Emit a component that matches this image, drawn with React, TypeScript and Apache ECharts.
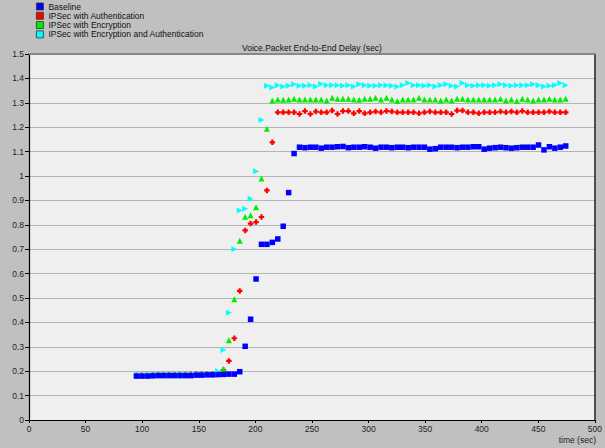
import React, { useEffect, useRef } from "react";
import * as echarts from "echarts";

const seriesNames = [
  "Baseline",
  "IPSec with Authentication",
  "IPSec with Encryption",
  "IPSec with Encryption and Authentication",
];

const times = [
  95, 99.8, 104.6, 109.4, 114.2, 119, 123.8, 128.6, 133.4, 138.2,
  143, 147.8, 152.6, 157.4, 162.2, 167, 171.8, 176.6, 181.4, 186.2,
  191, 195.8, 200.6, 205.4, 210.2, 215, 219.8, 224.6, 229.4, 234.2,
  239, 243.8, 248.6, 253.4, 258.2, 263, 267.8, 272.6, 277.4, 282.2,
  287, 291.8, 296.6, 301.4, 306.2, 311, 315.8, 320.6, 325.4, 330.2,
  335, 339.8, 344.6, 349.4, 354.2, 359, 363.8, 368.6, 373.4, 378.2,
  383, 387.8, 392.6, 397.4, 402.2, 407, 411.8, 416.6, 421.4, 426.2,
  431, 435.8, 440.6, 445.4, 450.2, 455, 459.8, 464.6, 469.4, 474.2,
];

const baseline = [
  0.180, 0.180, 0.180, 0.181, 0.182, 0.182, 0.182, 0.182, 0.182, 0.182,
  0.182, 0.184, 0.184, 0.185, 0.185, 0.186, 0.187, 0.188, 0.188, 0.198,
  0.302, 0.413, 0.578, 0.720, 0.720, 0.728, 0.742, 0.794, 0.932, 1.092,
  1.118, 1.116, 1.118, 1.118, 1.114, 1.118, 1.118, 1.120, 1.121, 1.116,
  1.118, 1.118, 1.120, 1.118, 1.114, 1.118, 1.118, 1.116, 1.118, 1.118,
  1.116, 1.118, 1.118, 1.118, 1.110, 1.112, 1.118, 1.118, 1.118, 1.116,
  1.118, 1.118, 1.120, 1.120, 1.110, 1.114, 1.116, 1.118, 1.116, 1.114,
  1.116, 1.118, 1.118, 1.118, 1.127, 1.107, 1.120, 1.114, 1.118, 1.123,
];

const ipsecAuth = [
  0.183, 0.183, 0.183, 0.184, 0.185, 0.185, 0.185, 0.185, 0.185, 0.186,
  0.186, 0.187, 0.188, 0.188, 0.189, 0.190, 0.205, 0.242, 0.335, 0.529,
  0.777, 0.805, 0.811, 0.832, 0.941, 1.138, 1.261, 1.261, 1.261, 1.261,
  1.254, 1.266, 1.254, 1.264, 1.261, 1.261, 1.268, 1.254, 1.266, 1.266,
  1.257, 1.266, 1.257, 1.261, 1.264, 1.261, 1.266, 1.264, 1.261, 1.261,
  1.261, 1.261, 1.257, 1.261, 1.264, 1.261, 1.261, 1.261, 1.254, 1.268,
  1.268, 1.261, 1.261, 1.257, 1.261, 1.261, 1.261, 1.264, 1.261, 1.264,
  1.261, 1.266, 1.261, 1.261, 1.261, 1.261, 1.264, 1.261, 1.261, 1.261,
];

const ipsecEnc = [
  0.184, 0.184, 0.184, 0.185, 0.186, 0.186, 0.186, 0.186, 0.186, 0.186,
  0.186, 0.188, 0.188, 0.189, 0.189, 0.190, 0.209, 0.327, 0.495, 0.735,
  0.833, 0.839, 0.872, 0.990, 1.194, 1.309, 1.314, 1.312, 1.314, 1.317,
  1.314, 1.314, 1.314, 1.314, 1.314, 1.309, 1.321, 1.317, 1.317, 1.317,
  1.314, 1.312, 1.317, 1.317, 1.321, 1.314, 1.321, 1.314, 1.307, 1.314,
  1.314, 1.314, 1.321, 1.314, 1.314, 1.314, 1.309, 1.314, 1.309, 1.317,
  1.317, 1.314, 1.314, 1.314, 1.314, 1.314, 1.314, 1.317, 1.309, 1.314,
  1.307, 1.317, 1.314, 1.309, 1.314, 1.314, 1.317, 1.314, 1.314, 1.317,
];

const ipsecEncAuth = [
  0.184, 0.184, 0.184, 0.185, 0.186, 0.186, 0.186, 0.186, 0.186, 0.186,
  0.186, 0.188, 0.188, 0.189, 0.189, 0.200, 0.287, 0.440, 0.700, 0.859,
  0.866, 0.907, 1.019, 1.230, 1.370, 1.363, 1.372, 1.367, 1.370, 1.376,
  1.370, 1.370, 1.372, 1.367, 1.377, 1.372, 1.372, 1.372, 1.370, 1.372,
  1.367, 1.376, 1.372, 1.370, 1.370, 1.372, 1.372, 1.370, 1.367, 1.372,
  1.381, 1.372, 1.372, 1.370, 1.372, 1.367, 1.372, 1.376, 1.370, 1.367,
  1.381, 1.372, 1.370, 1.372, 1.372, 1.370, 1.372, 1.376, 1.372, 1.370,
  1.372, 1.372, 1.372, 1.376, 1.372, 1.367, 1.370, 1.372, 1.381, 1.372,
];

const seriesValues = [baseline, ipsecAuth, ipsecEnc, ipsecEncAuth];
const colors = ["#0000ff", "#ff0000", "#00ee00", "#00ffff"];
const symbols = [
  "rect",
  "path://M1.5,0h2v1.5h1.5v2h-1.5v1.5h-2v-1.5h-1.5v-2h1.5z",
  "triangle",
  "triangle",
];
const symbolSizes = [5.5, 5.5, 6, 6];
const symbolRotates = [0, 0, 0, -90];

const FONT = 'Arial, "Liberation Sans", sans-serif';

export default function App() {
  const ref = useRef<HTMLDivElement>(null);

  useEffect(() => {
    if (!ref.current) return;
    const chart = echarts.init(ref.current, null, { renderer: "svg" });

    const series = seriesNames.map((name, i) => ({
      name,
      type: "scatter",
      data: times.map((t, k) => [t, seriesValues[i][k]]),
      symbol: symbols[i],
      symbolSize: symbolSizes[i],
      symbolRotate: symbolRotates[i],
      itemStyle: { color: colors[i], opacity: 1 },
      z: i === 0 ? 5 : 2,
      emphasis: { disabled: true },
    }));

    chart.setOption({
      animation: false,
      backgroundColor: "#c0c0c0",
      textStyle: { fontFamily: FONT },
      title: {
        text: "Voice.Packet End-to-End Delay (sec)",
        left: 242,
        top: 43.5,
        padding: 0,
        textStyle: { fontSize: 8.5, fontWeight: "normal", color: "#111", fontFamily: FONT },
      },
      legend: {
        data: seriesNames.map((n) => ({ name: n, icon: "rect" })),
        orient: "vertical",
        left: 36,
        top: 2,
        padding: 0,
        itemWidth: 7,
        itemHeight: 7,
        itemGap: 0.3,
        itemStyle: { borderColor: "#333", borderWidth: 0.8 },
        textStyle: { fontSize: 8.5, color: "#111", lineHeight: 9, fontFamily: FONT },
        selectedMode: false,
      },
      grid: {
        left: 29,
        right: 8,
        top: 54,
        bottom: 28,
        show: true,
        backgroundColor: "#efefef",
        borderWidth: 0,
      },
      xAxis: [
        {
          type: "value",
          min: 0,
          max: 500,
          interval: 50,
          position: "bottom",
          axisLine: { show: true, lineStyle: { color: "#000", width: 1.2 } },
          axisTick: { show: true, length: 3, lineStyle: { color: "#000" } },
          axisLabel: { fontSize: 8.5, color: "#222", margin: 4, fontFamily: FONT },
          splitLine: { show: false },
        },
        {
          type: "value",
          min: 0,
          max: 500,
          position: "top",
          axisLine: { show: true, onZero: false, lineStyle: { color: "#888", width: 2 } },
          axisTick: { show: false },
          axisLabel: { show: false },
          splitLine: { show: false },
        },
      ],
      yAxis: [
        {
          type: "value",
          min: 0,
          max: 1.5,
          interval: 0.1,
          position: "left",
          axisLine: { show: true, lineStyle: { color: "#000", width: 1.2 } },
          axisTick: { show: true, length: 4, lineStyle: { color: "#000" } },
          axisLabel: { fontSize: 8.5, color: "#222", margin: 5, fontFamily: FONT },
          splitLine: { show: true, lineStyle: { color: "#b4b4b4", width: 1 } },
        },
        {
          type: "value",
          min: 0,
          max: 1.5,
          position: "right",
          axisLine: { show: true, onZero: false, lineStyle: { color: "#222", width: 1.5 } },
          axisTick: { show: false },
          axisLabel: { show: false },
          splitLine: { show: false },
        },
      ],
      graphic: [
        {
          type: "text",
          right: 9,
          bottom: 4,
          style: { text: "time (sec)", fontSize: 8.5, fill: "#222", fontFamily: FONT },
        },
      ],
      series,
    });

    return () => chart.dispose();
  }, []);

  return (
    <div
      ref={ref}
      style={{ position: "fixed", left: 0, top: 0, width: 605, height: 448 }}
    />
  );
}
